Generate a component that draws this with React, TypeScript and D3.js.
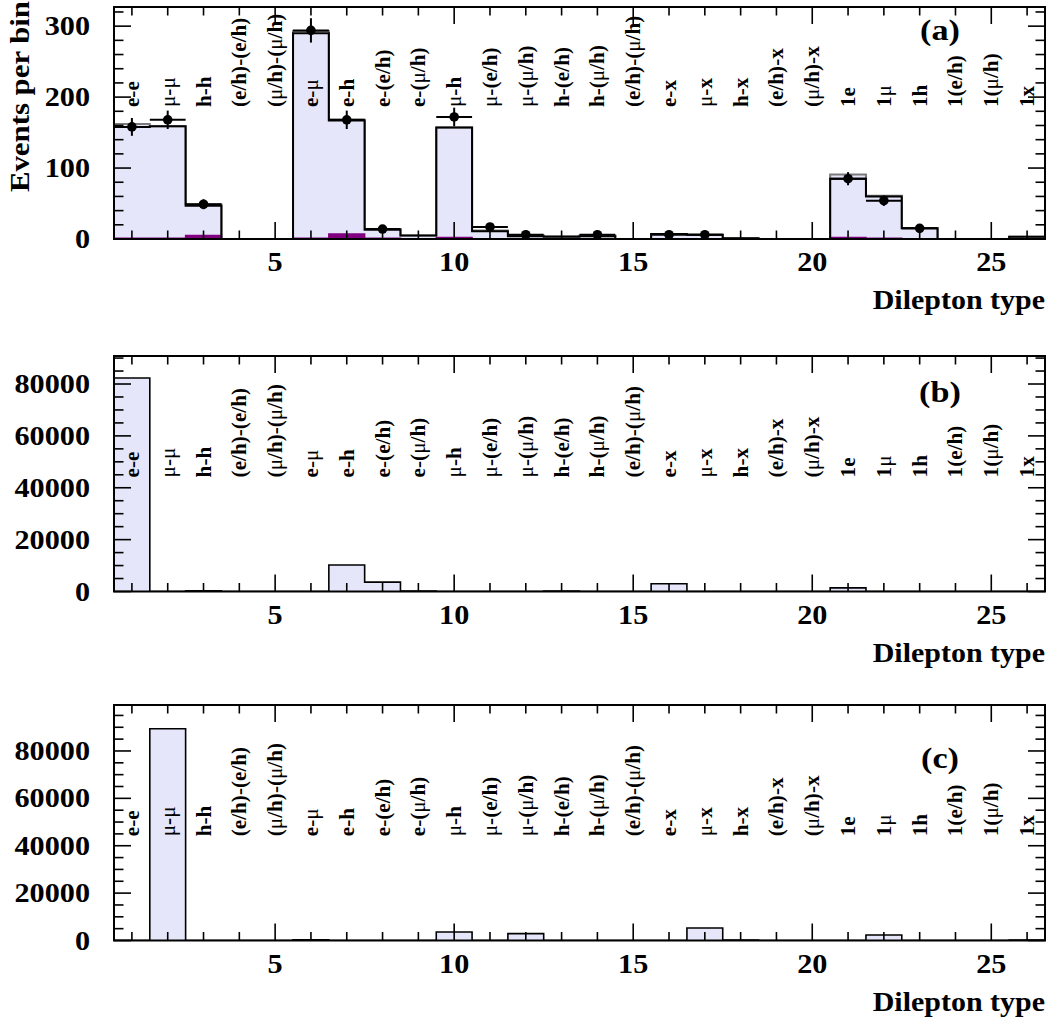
import React from "react";
import * as d3 from "d3";

// ---------- data ----------
const binLabels = [
  "e-e", "μ-μ", "h-h", "(e/h)-(e/h)", "(μ/h)-(μ/h)", "e-μ", "e-h", "e-(e/h)", "e-(μ/h)",
  "μ-h", "μ-(e/h)", "μ-(μ/h)", "h-(e/h)", "h-(μ/h)", "(e/h)-(μ/h)", "e-x", "μ-x", "h-x",
  "(e/h)-x", "(μ/h)-x", "1e", "1μ", "1h", "1(e/h)", "1(μ/h)", "1x",
];
const xTickLabels = [5, 10, 15, 20, 25];

// Panel (a): simulation total (filled), main component (black line), small component (purple), data
const aTotal = [162, 159, 49, 0, 0, 293, 168, 14, 5, 157, 12, 5, 4, 5, 0, 7, 6, 1, 0, 0, 91, 61, 15, 0, 0, 3];
const aMain = [158, 159, 47, 0, 0, 290, 167, 13, 5, 157, 11, 4, 3, 4, 0, 7, 6, 1, 0, 0, 85, 60, 15, 0, 0, 3];
const aOther = [1, 1, 5, 0, 0, 1, 7, 1, 0, 2, 0, 0, 0, 0, 0, 0, 0, 0, 0, 0, 2, 1, 0, 0, 0, 0];
const aData: (number | null)[] = [158, 168, 49, null, null, 294, 168, 14, null, 172, 17, 6, null, 6, null, 6, 6, null, null, null, 85, 54, 15, null, null, null];

// Panel (b)
const bValues = [82300, 0, 300, 0, 0, 0, 10200, 3600, 200, 0, 0, 0, 200, 0, 0, 3000, 0, 0, 0, 0, 1400, 0, 0, 0, 0, 0];
// Panel (c)
const cValues = [0, 89400, 0, 0, 0, 250, 0, 0, 0, 3600, 0, 2900, 0, 0, 0, 0, 5300, 200, 0, 0, 0, 2300, 0, 0, 0, 200];

const aYTicks = [0, 100, 200, 300];
const bcYTicks = [0, 20000, 40000, 60000, 80000];

// ---------- layout ----------
const W = 1059;
const H = 1017;
const X0 = 114;
const X1 = 1045;
const FONT = "'Liberation Serif', 'Times New Roman', serif";
const LAV = "#e6e6fa";
const PURPLE = "#800080";

const x = d3.scaleLinear().domain([0.5, 26.5]).range([X0, X1]);

type PanelCfg = {
  id: string;
  top: number;
  bottom: number;
  ymax: number;
  major: number;
  minor: number;
  labelY: number;
  tagY: number;
  yTicks: number[];
};

const panels: PanelCfg[] = [
  { id: "a", top: 7, bottom: 239, ymax: 327, major: 100, minor: 20, labelY: 186, tagY: 280, yTicks: aYTicks },
  { id: "b", top: 356, bottom: 591.5, ymax: 90800, major: 20000, minor: 5000, labelY: 44000, tagY: 73000, yTicks: bcYTicks },
  { id: "c", top: 705, bottom: 940.5, ymax: 99400, major: 20000, minor: 5000, labelY: 44000, tagY: 73000, yTicks: bcYTicks },
];

function outlinePts(vals: number[]): [number, number][] {
  const pts: [number, number][] = [[0.5, 0]];
  vals.forEach((v, i) => {
    pts.push([i + 0.5, v]);
    pts.push([i + 1.5, v]);
  });
  pts.push([26.5, 0]);
  return pts;
}

function SText(props: {
  x: number; y: number; size: number; sx?: number; anchor?: string; rotate?: number; weight?: string; children: React.ReactNode;
}) {
  const { sx = 1, anchor = "start", rotate = 0, weight = "bold" } = props;
  return (
    <g transform={`translate(${props.x},${props.y}) rotate(${rotate}) scale(${sx},1)`}>
      <text fontFamily={FONT} fontSize={props.size} fontWeight={weight} textAnchor={anchor} fill="#000">
        {props.children}
      </text>
    </g>
  );
}

function labelParts(s: string) {
  return s.split(/(μ)/).filter((p) => p !== "").map((p, i) =>
    p === "μ" ? <tspan key={i} fontWeight="normal">μ</tspan> : <tspan key={i}>{p}</tspan>
  );
}

function Panel({ cfg }: { cfg: PanelCfg }) {
  const y = d3.scaleLinear().domain([0, cfg.ymax]).range([cfg.bottom, cfg.top]);
  const line = d3.line<[number, number]>().x((d) => x(d[0])).y((d) => y(d[1]));
  const clipId = `clip-${cfg.id}`;

  const hist: React.ReactNode[] = [];
  if (cfg.id === "a") {
    hist.push(<path key="tf" d={line(outlinePts(aTotal)) || ""} fill={LAV} stroke="#7a7a7a" strokeWidth={2} />);
    hist.push(<path key="pf" d={line(outlinePts(aOther)) || ""} fill={PURPLE} stroke={PURPLE} strokeWidth={1.5} />);
    hist.push(<path key="ml" d={line(outlinePts(aMain)) || ""} fill="none" stroke="#000" strokeWidth={2} />);
    aData.forEach((v, i) => {
      if (v === null) return;
      const cx = x(i + 1);
      const err = Math.sqrt(v);
      hist.push(
        <g key={`d${i}`}>
          <line x1={x(i + 0.5)} x2={x(i + 1.5)} y1={y(v)} y2={y(v)} stroke="#000" strokeWidth={2} />
          <line x1={cx} x2={cx} y1={y(v - err)} y2={y(v + err)} stroke="#000" strokeWidth={2} />
          <circle cx={cx} cy={y(v)} r={4.8} fill="#000" />
        </g>
      );
    });
  } else {
    const vals = cfg.id === "b" ? bValues : cValues;
    hist.push(<path key="f" d={line(outlinePts(vals)) || ""} fill={LAV} stroke="#000" strokeWidth={1.6} />);
  }

  const ticks: React.ReactNode[] = [];
  for (let i = 1; i <= 26; i++) {
    const len = i % 5 === 0 ? 17 : 8.5;
    ticks.push(<line key={`xb${i}`} x1={x(i)} x2={x(i)} y1={cfg.bottom} y2={cfg.bottom - len} stroke="#000" strokeWidth={1.6} />);
    ticks.push(<line key={`xt${i}`} x1={x(i)} x2={x(i)} y1={cfg.top} y2={cfg.top + len} stroke="#000" strokeWidth={1.6} />);
  }
  const nMinor = Math.floor(cfg.ymax / cfg.minor);
  for (let k = 0; k <= nMinor; k++) {
    const v = k * cfg.minor;
    const isMajor = Math.abs(v % cfg.major) < 1e-9;
    const len = isMajor ? 17 : 9.5;
    ticks.push(<line key={`yl${k}`} x1={X0} x2={X0 + len} y1={y(v)} y2={y(v)} stroke="#000" strokeWidth={1.6} />);
    ticks.push(<line key={`yr${k}`} x1={X1} x2={X1 - len} y1={y(v)} y2={y(v)} stroke="#000" strokeWidth={1.6} />);
  }

  return (
    <g>
      <defs>
        <clipPath id={clipId}>
          <rect x={X0} y={cfg.top} width={X1 - X0} height={cfg.bottom - cfg.top} />
        </clipPath>
      </defs>
      <g clipPath={`url(#${clipId})`}>{hist}</g>
      {ticks}
      <rect x={X0} y={cfg.top} width={X1 - X0} height={cfg.bottom - cfg.top} fill="none" stroke="#000" strokeWidth={2} />
      {cfg.yTicks.map((v) => (
        <SText key={`yl${v}`} x={90} y={y(v) + 9} size={27} sx={1.12} anchor="end">{String(v)}</SText>
      ))}
      {xTickLabels.map((v) => (
        <SText key={`xl${v}`} x={x(v)} y={cfg.bottom + 32} size={27} sx={1.12} anchor="middle">{String(v)}</SText>
      ))}
      <SText x={X1} y={cfg.bottom + 70} size={27} sx={1.11} anchor="end">Dilepton type</SText>
      {binLabels.map((s, i) => (
        <SText key={`bl${i}`} x={x(i + 1) + 7} y={y(cfg.labelY)} size={20} sx={1.06} rotate={-90}>{labelParts(s)}</SText>
      ))}
      <SText x={940} y={y(cfg.tagY)} size={29} sx={1.18} anchor="middle">{`(${cfg.id})`}</SText>
    </g>
  );
}

export default function App() {
  return (
    <svg width={W} height={H} style={{ position: "absolute", left: 0, top: 0, background: "#fff" }}>
      <rect x={0} y={0} width={W} height={H} fill="#fff" />
      {panels.map((p) => (
        <Panel key={p.id} cfg={p} />
      ))}
      <SText x={29} y={1} size={28} sx={1.1} rotate={-90} anchor="end">Events per bin</SText>
    </svg>
  );
}
